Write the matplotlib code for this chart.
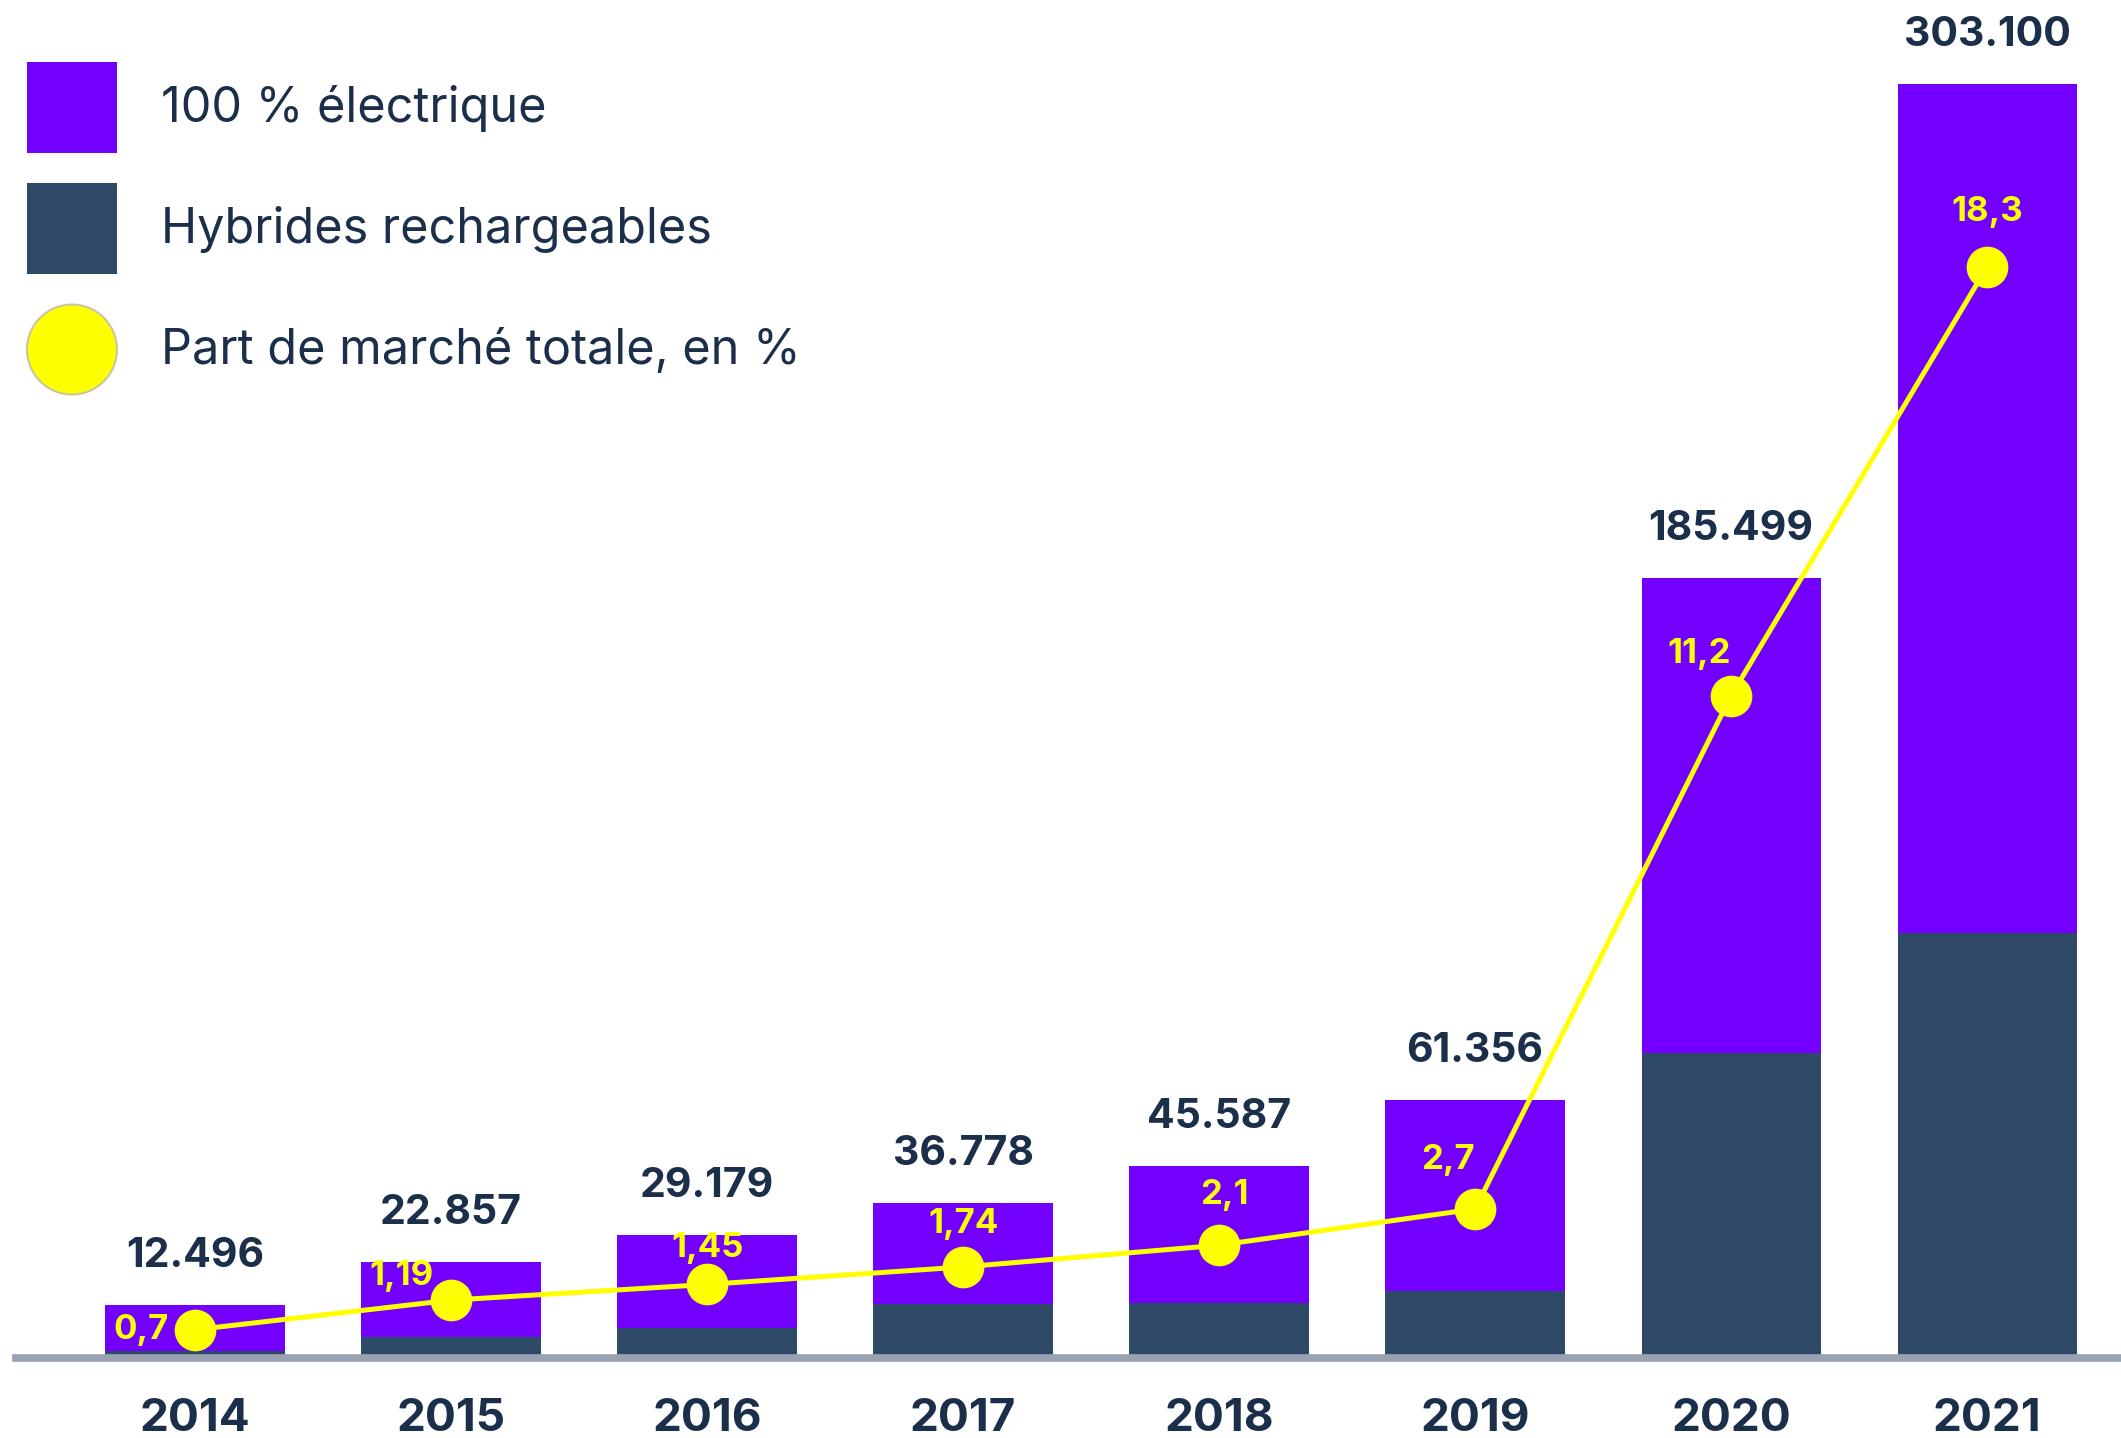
import numpy as np
import matplotlib
matplotlib.use('Agg')
import matplotlib.pyplot as plt
from matplotlib.patches import Patch, Circle
from matplotlib.legend_handler import HandlerPatch

# data
years = ['2014', '2015', '2016', '2017', '2018', '2019', '2020', '2021']
totals = [12496, 22857, 29179, 36778, 45587, 61356, 185499, 303100]
hybrids = [1700, 5000, 7100, 12900, 13100, 16000, 72600, 101000]
share = [0.7, 1.19, 1.45, 1.74, 2.1, 2.7, 11.2, 18.3]
total_labels = ['12.496', '22.857', '29.179', '36.778', '45.587', '61.356', '185.499', '303.100']
share_labels = ['0,7', '1,19', '1,45', '1,74', '2,1', '2,7', '11,2', '18,3']

electric = [t - h for t, h in zip(totals, hybrids)]

purple = '#7300ff'
navy = '#2f4a68'
text_navy = '#1b2f4b'
yellow = '#ffff00'
grey = '#9aa1b2'
plt.rcParams['font.family'] = ['Inter', 'DejaVu Sans']

W, H = 2121, 1438
fig = plt.figure(figsize=(W / 100, H / 100), dpi=100)
ax = fig.add_axes([0, 80 / H, 1, 1358 / H])

x = np.arange(len(years))
ax.bar(x, hybrids, width=0.70, color=navy, zorder=2)
ax.bar(x, electric, bottom=hybrids, width=0.70, color=purple, zorder=2)
ax.set_xlim(-0.762, 7.523)
ax.set_ylim(0, 323100)

for s in ax.spines.values():
    s.set_visible(False)
ax.set_yticks([])
ax.set_xticks(x)
ax.set_xticklabels(years, fontsize=33, fontweight='bold', color=text_navy)
ax.tick_params(axis='x', length=0, pad=29)
ax.axhline(0, xmin=16 / W, xmax=1, color=grey, lw=5.5, zorder=3, clip_on=False)

# totals above the bars
for xi, t, lab in zip(x, totals, total_labels):
    ax.annotate(lab, (xi, t), xytext=(0, 30), textcoords='offset pixels',
                ha='center', va='bottom', fontsize=29.5, fontweight='bold',
                color=text_navy)

# market share line on its own hidden axis
ax2 = ax.twinx()
ax2.set_ylim(0.232, 22.72)
ax2.set_axis_off()
ax2.plot(x, share, color=yellow, lw=3.6, marker='o', ms=29, zorder=4)

offsets = [(-54, 0), (-50, 24), (0, 36), (0, 43), (5, 50), (-27, 49), (-32, 42), (0, 55)]
for xi, v, lab, off in zip(x, share, share_labels, offsets):
    ax2.annotate(lab, (xi, v), xytext=off, textcoords='offset pixels',
                 ha='center', va='center', fontsize=25, fontweight='bold',
                 color=yellow)


def round_handle(legend, orig_handle, xdescent, ydescent, width, height, fontsize):
    return Circle((width / 2 - xdescent, height / 2 - ydescent), radius=min(width, height) / 2)


dot = Patch(facecolor=yellow, edgecolor='#c9c79a', linewidth=1.5)
handles = [Patch(facecolor=purple), Patch(facecolor=navy), dot]
labels = ['100 % électrique', 'Hybrides rechargeables', 'Part de marché totale, en %']
leg = fig.legend(handles, labels, loc='upper left', bbox_to_anchor=(27 / W, 1 - 62 / H),
                 frameon=False, fontsize=35, handlelength=1.85, handleheight=2.5,
                 handletextpad=0.9, labelspacing=0.62, borderpad=0, borderaxespad=0,
                 handler_map={dot: HandlerPatch(patch_func=round_handle)})
for t in leg.get_texts():
    t.set_color(text_navy)

fig.savefig('out.png', dpi=100)
